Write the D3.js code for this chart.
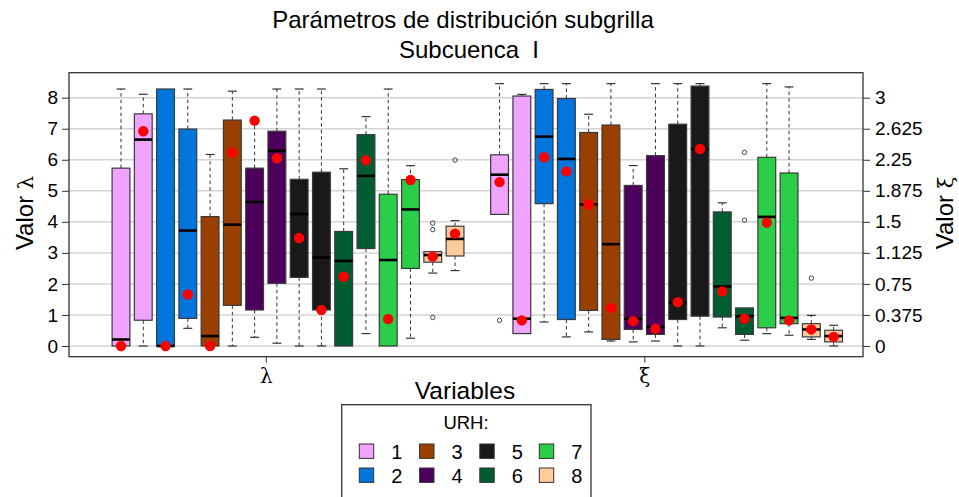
<!DOCTYPE html>
<html>
<head>
<meta charset="utf-8">
<script src="https://cdn.jsdelivr.net/npm/d3@7"></script>
<style>
  html, body { margin: 0; padding: 0; background: #fff; }
  svg { display: block; font-family: "Liberation Sans", Arial, sans-serif; }
</style>
</head>
<body>
<svg id="chart" width="959" height="497"></svg>
<script>
// ---------------- DATA ----------------
const variables = ["λ", "ξ"];
const urhGroups = [1, 1, 2, 2, 3, 3, 4, 4, 5, 5, 6, 6, 7, 7, 8, 8];
const urhLabels = ["1", "2", "3", "4", "5", "6", "7", "8"];
const urhColors = ["#F0A3FF", "#0075DC", "#993F00", "#4C005C", "#191919", "#005C31", "#2BCE48", "#FFCC99"];

// λ (left axis)
const lambdaLow  = [0, 0, 0, 0.57, 0, 0, 0.28, 0.09, 0, 0, 0, 0.40, 0, 0.25, 2.35, 2.43];
const lambdaQ1   = [0, 0.83, 0, 0.89, 0, 1.31, 1.16, 2.02, 2.21, 1.16, 0, 3.14, 0, 2.50, 2.70, 2.90];
const lambdaMed  = [0.21, 6.65, 0, 3.72, 0.32, 3.91, 4.64, 6.29, 4.25, 2.85, 2.74, 5.48, 2.77, 4.40, 2.93, 3.45];
const lambdaQ3   = [5.73, 7.48, 8.28, 6.99, 4.17, 7.28, 5.73, 6.92, 5.37, 5.60, 3.69, 6.81, 4.89, 5.36, 3.04, 3.86];
const lambdaHigh = [8.28, 8.11, 8.28, 8.28, 6.17, 8.21, 7.20, 8.28, 8.28, 8.28, 5.71, 7.39, 8.28, 5.81, 3.04, 4.04];
const lambdaMean = [0, 6.92, 0, 1.66, 0, 6.23, 7.26, 6.05, 3.48, 1.16, 2.23, 5.99, 0.87, 5.35, 2.88, 3.62];
const lambdaOutBox = [15, 15, 15, 16];
const lambdaOutVal = [3.96, 3.75, 0.92, 5.99];

// ξ (right axis)
const xiLow  = [1.59, 0.15, 0.29, 0.11, 0.17, 0.06, 0.05, 0.06, 0, 0, 0.22, 0.07, 0.15, 0.13, 0.08, 0];
const xiQ1   = [1.59, 0.15, 1.72, 0.32, 0.43, 0.08, 0.20, 0.14, 0.32, 0.36, 0.35, 0.14, 0.22, 0.27, 0.11, 0.05];
const xiMed  = [2.07, 0.33, 2.53, 2.26, 1.71, 1.23, 0.33, 0.23, 0.52, 2.38, 0.72, 0.36, 1.56, 0.34, 0.20, 0.12];
const xiQ3   = [2.31, 3.02, 3.10, 2.99, 2.58, 2.67, 1.94, 2.30, 2.68, 3.14, 1.62, 0.46, 2.28, 2.09, 0.27, 0.19];
const xiHigh = [3.17, 3.04, 3.17, 3.17, 2.80, 3.17, 2.18, 3.17, 3.17, 3.17, 1.73, 0.46, 3.17, 3.13, 0.37, 0.25];
const xiMean = [1.98, 0.31, 2.28, 2.11, 1.71, 0.46, 0.30, 0.21, 0.53, 2.38, 0.66, 0.33, 1.49, 0.31, 0.20, 0.11];
const xiOutBox = [1, 12, 12, 15];
const xiOutVal = [0.31, 2.34, 1.52, 0.82];

const leftTicks = [0, 1, 2, 3, 4, 5, 6, 7, 8];
const rightTicks = [0, 0.375, 0.75, 1.125, 1.5, 1.875, 2.25, 2.625, 3];
const rightTickLabels = ["0", "0.375", "0.75", "1.125", "1.5", "1.875", "2.25", "2.625", "3"];
const variableTickPos = [7.5, 24.5];

// ---------------- LAYOUT ----------------
const svg = d3.select("#chart");
const plot = { left: 69, right: 863, top: 72.7, bottom: 356.7 };

const x = d3.scaleLinear().domain([-1.335, 34.32]).range([plot.left, plot.right]);
const yL = d3.scaleLinear().domain([0, 8]).range([346, 97.7]);
const yR = d3.scaleLinear().domain([0, 3]).range([346, 97.7]);
const color = d3.scaleOrdinal().domain(urhLabels).range(urhColors);

const boxW = x(0.8) - x(0);
const capW = x(0.4) - x(0);

// gridlines
svg.append("g").selectAll("line").data(leftTicks).join("line")
  .attr("x1", plot.left).attr("x2", plot.right)
  .attr("y1", d => yL(d)).attr("y2", d => yL(d))
  .attr("stroke", "#d4d4d4").attr("stroke-width", 1.5);

function buildBoxes(low, q1, med, q3, high, mean, offset) {
  return low.map((v, i) => ({
    pos: offset + i + 1, urh: String(urhGroups[i]),
    low: v, q1: q1[i], med: med[i], q3: q3[i], high: high[i], mean: mean[i]
  }));
}
const lambdaBoxes = buildBoxes(lambdaLow, lambdaQ1, lambdaMed, lambdaQ3, lambdaHigh, lambdaMean, 0);
const xiBoxes = buildBoxes(xiLow, xiQ1, xiMed, xiQ3, xiHigh, xiMean, 17);

function drawBoxes(boxes, y, outBox, outVal, offset) {
  const g = svg.append("g");
  const whisk = "#333";
  boxes.forEach(b => {
    const cx = x(b.pos);
    if (b.high > b.q3 + 1e-9) {
      g.append("line").attr("x1", cx).attr("x2", cx).attr("y1", y(b.q3)).attr("y2", y(b.high))
        .attr("stroke", whisk).attr("stroke-width", 1).attr("stroke-dasharray", "3.5,3");
      g.append("line").attr("x1", cx - capW / 2).attr("x2", cx + capW / 2).attr("y1", y(b.high)).attr("y2", y(b.high))
        .attr("stroke", whisk).attr("stroke-width", 1.2);
    }
    if (b.low < b.q1 - 1e-9) {
      g.append("line").attr("x1", cx).attr("x2", cx).attr("y1", y(b.q1)).attr("y2", y(b.low))
        .attr("stroke", whisk).attr("stroke-width", 1).attr("stroke-dasharray", "3.5,3");
      g.append("line").attr("x1", cx - capW / 2).attr("x2", cx + capW / 2).attr("y1", y(b.low)).attr("y2", y(b.low))
        .attr("stroke", whisk).attr("stroke-width", 1.2);
    }
  });
  g.selectAll("rect.box").data(boxes).join("rect").attr("class", "box")
    .attr("x", d => x(d.pos) - boxW / 2).attr("width", boxW)
    .attr("y", d => y(d.q3)).attr("height", d => Math.max(0.5, y(d.q1) - y(d.q3)))
    .attr("fill", d => color(d.urh)).attr("stroke", "#3a3a3a").attr("stroke-width", 1.2);
  g.selectAll("line.med").data(boxes).join("line").attr("class", "med")
    .attr("x1", d => x(d.pos) - boxW / 2).attr("x2", d => x(d.pos) + boxW / 2)
    .attr("y1", d => y(d.med)).attr("y2", d => y(d.med))
    .attr("stroke", "#000").attr("stroke-width", 2.6);
  g.selectAll("circle.out").data(outBox.map((b, i) => ({ pos: offset + b, v: outVal[i] }))).join("circle")
    .attr("class", "out")
    .attr("cx", d => x(d.pos)).attr("cy", d => y(d.v)).attr("r", 2.2)
    .attr("fill", "none").attr("stroke", "#444").attr("stroke-width", 1);
  g.selectAll("circle.mean").data(boxes).join("circle").attr("class", "mean")
    .attr("cx", d => x(d.pos)).attr("cy", d => y(d.mean)).attr("r", 5.2)
    .attr("fill", "#FF0000");
}
drawBoxes(lambdaBoxes, yL, lambdaOutBox, lambdaOutVal, 0);
drawBoxes(xiBoxes, yR, xiOutBox, xiOutVal, 17);

// plot border
svg.append("rect").attr("x", plot.left).attr("y", plot.top)
  .attr("width", plot.right - plot.left).attr("height", plot.bottom - plot.top)
  .attr("fill", "none").attr("stroke", "#333").attr("stroke-width", 1.3);

// axes
const axL = svg.append("g").attr("transform", `translate(${plot.left},0)`)
  .call(d3.axisLeft(yL).tickValues(leftTicks).tickSize(7).tickPadding(4).tickFormat(d3.format("d")));
axL.select(".domain").remove();
axL.selectAll("text").attr("font-size", 19).attr("fill", "#000").style("font-family", "Liberation Sans, Arial, sans-serif");
axL.selectAll("line").attr("stroke", "#333");

const axR = svg.append("g").attr("transform", `translate(${plot.right},0)`)
  .call(d3.axisRight(yR).tickValues(rightTicks).tickSize(7).tickPadding(5).tickFormat((d, i) => rightTickLabels[i]));
axR.select(".domain").remove();
axR.selectAll("text").attr("font-size", 19).attr("fill", "#000").style("font-family", "Liberation Sans, Arial, sans-serif");
axR.selectAll("line").attr("stroke", "#333");

const axB = svg.append("g").attr("transform", `translate(0,${plot.bottom})`)
  .call(d3.axisBottom(x).tickValues(variableTickPos).tickSize(6).tickPadding(6).tickFormat((d, i) => variables[i]));
axB.select(".domain").remove();
axB.selectAll("text").attr("font-size", 20).attr("fill", "#000").style("font-family", "DejaVu Serif, serif");
axB.selectAll("line").attr("stroke", "#333");

// titles
svg.append("text").attr("x", 463).attr("y", 28).attr("text-anchor", "middle")
  .attr("font-size", 24).text("Parámetros de distribución subgrilla");
svg.append("text").attr("x", 469).attr("y", 58).attr("text-anchor", "middle")
  .attr("font-size", 24).attr("xml:space", "preserve").text("Subcuenca  I");

// y labels
const yl = svg.append("text").attr("transform", "translate(33,213) rotate(-90)").attr("text-anchor", "middle").attr("font-size", 24);
yl.append("tspan").text("Valor ");
yl.append("tspan").style("font-family", "DejaVu Serif, serif").attr("font-size", 21).text("λ");
const yr = svg.append("text").attr("transform", "translate(953,213) rotate(-90)").attr("text-anchor", "middle").attr("font-size", 24);
yr.append("tspan").text("Valor ");
yr.append("tspan").style("font-family", "DejaVu Serif, serif").attr("font-size", 21).text("ξ");

// x label
svg.append("text").attr("x", 465).attr("y", 399).attr("text-anchor", "middle")
  .attr("font-size", 24.5).text("Variables");

// legend
const lg = svg.append("g");
lg.append("rect").attr("x", 341.7).attr("y", 404.7).attr("width", 249.3).attr("height", 110)
  .attr("fill", "#fff").attr("stroke", "#333").attr("stroke-width", 1.3);
lg.append("text").attr("x", 466).attr("y", 429).attr("text-anchor", "middle").attr("font-size", 18.5).text("URH:");
const colX = [359.3, 419.6, 479.8, 539.3];
const rowY = [451, 475];
const items = urhLabels.map((l, i) => ({ label: l, col: Math.floor(i / 2), row: i % 2 }));
lg.selectAll("rect.key").data(items).join("rect").attr("class", "key")
  .attr("x", d => colX[d.col]).attr("y", d => rowY[d.row] - 7)
  .attr("width", 14.4).attr("height", 14.4)
  .attr("fill", d => color(d.label)).attr("stroke", "#333").attr("stroke-width", 1);
lg.selectAll("text.lab").data(items).join("text").attr("class", "lab")
  .attr("x", d => colX[d.col] + 37.5).attr("y", d => rowY[d.row] + 7.5)
  .attr("text-anchor", "middle").attr("font-size", 20).text(d => d.label);
</script>
</body>
</html>
